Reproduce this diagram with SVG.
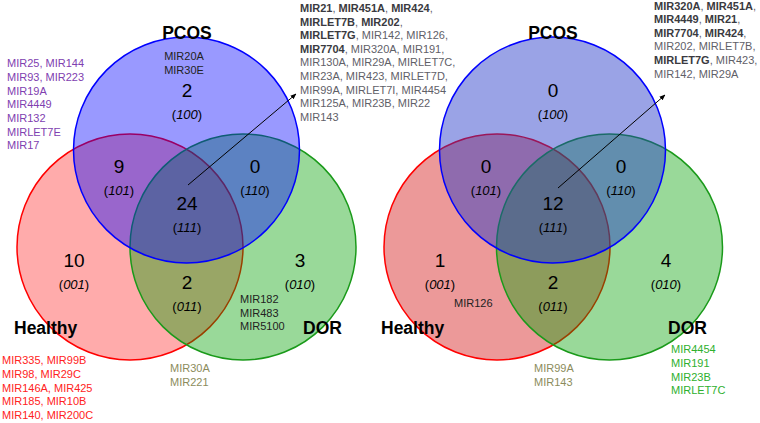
<svg xmlns="http://www.w3.org/2000/svg" width="760" height="423" viewBox="0 0 760 423">
<style>
text{font-family:"Liberation Sans",Arial,sans-serif}
.set{font-size:17.5px;font-weight:bold;fill:#000}
.num{font-size:19px;fill:#000;text-anchor:middle}
.code{font-size:13px;fill:#000;text-anchor:middle}
.code tspan{font-style:italic}
.lst{font-size:11px}
.gray{fill:#5f6068}
.b{font-weight:bold;fill:#3a3a40}
.dk{fill:#222}
.pur{fill:#8040b0}
.red{fill:#ff2222}
.olv{fill:#8c8c5c}
.grn{fill:#2eb02e}
</style>
<defs>
<marker id="ah" viewBox="0 0 10 10" refX="9" refY="5" markerWidth="6" markerHeight="6" orient="auto">
<path d="M0,1 L10,5 L0,9 z" fill="#000"/>
</marker>
</defs>

<g id="left-venn">
<g id="L-healthy"><circle cx="130" cy="247" r="113" fill="#ff0000" fill-opacity="0.33" stroke="#ff0000" stroke-width="1.5"/></g>
<g id="L-dor"><circle cx="243" cy="247" r="113" fill="#00a000" fill-opacity="0.4" stroke="#1a9a1a" stroke-width="1.5"/></g>
<g id="L-pcos"><circle cx="186.5" cy="150" r="113" fill="#0000ff" fill-opacity="0.4" stroke="#0000ff" stroke-width="1.5"/></g>
</g>

<g id="right-venn">
<g id="R-healthy"><circle cx="497" cy="247" r="113" fill="#d00000" fill-opacity="0.4" stroke="#ff0000" stroke-width="1.5"/></g>
<g id="R-dor"><circle cx="609.5" cy="247" r="113" fill="#00a000" fill-opacity="0.4" stroke="#1a9a1a" stroke-width="1.5"/></g>
<g id="R-pcos"><circle cx="552.5" cy="150" r="113" fill="#1e32c8" fill-opacity="0.45" stroke="#0000ff" stroke-width="1.5"/></g>
</g>

<g id="connectors">
<line x1="188" y1="185" x2="296" y2="94" stroke="#000" stroke-width="1" marker-end="url(#ah)"/>
<line x1="558" y1="188" x2="665" y2="95" stroke="#000" stroke-width="1" marker-end="url(#ah)"/>
</g>

<g id="left-labels">
<text class="set" x="187" y="39" text-anchor="middle">PCOS</text>
<text class="set" x="14" y="334">Healthy</text>
<text class="set" x="303" y="334">DOR</text>
<text class="lst dk" x="184" y="60" text-anchor="middle">MIR20A</text>
<text class="lst dk" x="184" y="73.5" text-anchor="middle">MIR30E</text>
<text class="num" x="187" y="97">2</text><text class="code" x="187" y="119">(<tspan>100</tspan>)</text>
<text class="num" x="119" y="173">9</text><text class="code" x="119" y="195">(<tspan>101</tspan>)</text>
<text class="num" x="255" y="173">0</text><text class="code" x="255" y="195">(<tspan>110</tspan>)</text>
<text class="num" x="187" y="210">24</text><text class="code" x="187" y="232">(<tspan>111</tspan>)</text>
<text class="num" x="74" y="267">10</text><text class="code" x="74" y="289">(<tspan>001</tspan>)</text>
<text class="num" x="187" y="289">2</text><text class="code" x="187" y="311">(<tspan>011</tspan>)</text>
<text class="num" x="300" y="267">3</text><text class="code" x="300" y="289">(<tspan>010</tspan>)</text>
<text class="lst dk" x="240" y="303">MIR182</text>
<text class="lst dk" x="240" y="316.5">MIR483</text>
<text class="lst dk" x="240" y="330">MIR5100</text>
<text class="lst pur" x="7" y="67">MIR25, MIR144</text>
<text class="lst pur" x="7" y="81">MIR93, MIR223</text>
<text class="lst pur" x="7" y="94.5">MIR19A</text>
<text class="lst pur" x="7" y="108">MIR4449</text>
<text class="lst pur" x="7" y="122">MIR132</text>
<text class="lst pur" x="7" y="135.5">MIRLET7E</text>
<text class="lst pur" x="7" y="149">MIR17</text>
<text class="lst red" x="2" y="364">MIR335, MIR99B</text>
<text class="lst red" x="2" y="378">MIR98, MIR29C</text>
<text class="lst red" x="2" y="391.5">MIR146A, MIR425</text>
<text class="lst red" x="2" y="405">MIR185, MIR10B</text>
<text class="lst red" x="2" y="419">MIR140, MIR200C</text>
<text class="lst olv" x="170" y="372">MIR30A</text>
<text class="lst olv" x="170" y="385.5">MIR221</text>
<text class="lst gray" x="300" y="12"><tspan class="b">MIR21</tspan>, <tspan class="b">MIR451A</tspan>, <tspan class="b">MIR424</tspan>,</text>
<text class="lst gray" x="300" y="25.5"><tspan class="b">MIRLET7B</tspan>, <tspan class="b">MIR202</tspan>,</text>
<text class="lst gray" x="300" y="39"><tspan class="b">MIRLET7G</tspan>, MIR142, MIR126,</text>
<text class="lst gray" x="300" y="52.5"><tspan class="b">MIR7704</tspan>, MIR320A, MIR191,</text>
<text class="lst gray" x="300" y="66">MIR130A, MIR29A, MIRLET7C,</text>
<text class="lst gray" x="300" y="80">MIR23A, MIR423, MIRLET7D,</text>
<text class="lst gray" x="300" y="93.5">MIR99A, MIRLET7I, MIR4454</text>
<text class="lst gray" x="300" y="107">MIR125A, MIR23B, MIR22</text>
<text class="lst gray" x="300" y="121">MIR143</text>
</g>

<g id="right-labels">
<text class="set" x="553" y="39" text-anchor="middle">PCOS</text>
<text class="set" x="381" y="334">Healthy</text>
<text class="set" x="668" y="334">DOR</text>
<text class="num" x="553" y="97">0</text><text class="code" x="553" y="119">(<tspan>100</tspan>)</text>
<text class="num" x="486" y="173">0</text><text class="code" x="486" y="195">(<tspan>101</tspan>)</text>
<text class="num" x="621" y="173">0</text><text class="code" x="621" y="195">(<tspan>110</tspan>)</text>
<text class="num" x="553" y="210">12</text><text class="code" x="553" y="232">(<tspan>111</tspan>)</text>
<text class="num" x="440" y="267">1</text><text class="code" x="440" y="289">(<tspan>001</tspan>)</text>
<text class="num" x="553" y="289">2</text><text class="code" x="553" y="311">(<tspan>011</tspan>)</text>
<text class="num" x="666" y="267">4</text><text class="code" x="666" y="289">(<tspan>010</tspan>)</text>
<text class="lst dk" x="454" y="307">MIR126</text>
<text class="lst olv" x="534" y="372">MIR99A</text>
<text class="lst olv" x="534" y="385.5">MIR143</text>
<text class="lst grn" x="671" y="353">MIR4454</text>
<text class="lst grn" x="671" y="367">MIR191</text>
<text class="lst grn" x="671" y="380.5">MIR23B</text>
<text class="lst grn" x="671" y="394">MIRLET7C</text>
<text class="lst gray" x="654" y="9.5"><tspan class="b">MIR320A</tspan>, <tspan class="b">MIR451A</tspan>,</text>
<text class="lst gray" x="654" y="23"><tspan class="b">MIR4449</tspan>, <tspan class="b">MIR21</tspan>,</text>
<text class="lst gray" x="654" y="36.5"><tspan class="b">MIR7704</tspan>, <tspan class="b">MIR424</tspan>,</text>
<text class="lst gray" x="654" y="50">MIR202, MIRLET7B,</text>
<text class="lst gray" x="654" y="64"><tspan class="b">MIRLET7G</tspan>, MIR423,</text>
<text class="lst gray" x="654" y="77.5">MIR142, MIR29A</text>
</g>
</svg>
